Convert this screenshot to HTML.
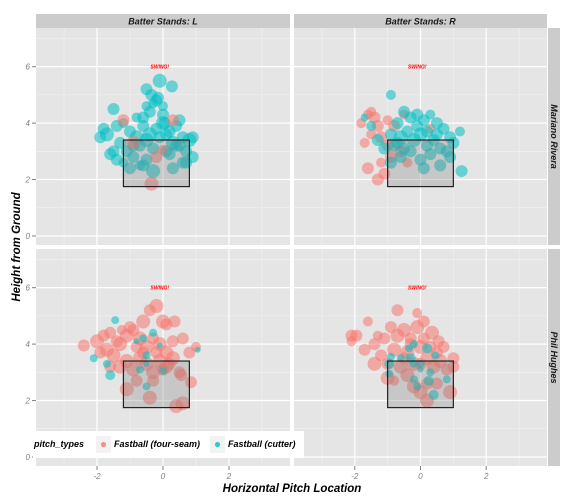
<!DOCTYPE html>
<html><head><meta charset="utf-8"><style>
body{margin:0;background:#fff;}
svg{display:block;font-family:"Liberation Sans",sans-serif;}
</style></head><body>
<svg id="c" width="576" height="504" xmlns="http://www.w3.org/2000/svg"></svg>
<script>
const xTicks=[-2,0,2];
const yTicks=[0,2,4,6];
const colors={f:"#F8766D",c:"#00BFC4"};
const legendLabels=["Fastball (four-seam)","Fastball (cutter)"];
const zoneL=[-1.2,0.8,1.75,3.4];
const zoneR=[-1.0,1.0,1.75,3.4];
// rows: [x, y, radius, type]
const riveraL=[[-0.1,5.5,7,'c'],[0.27,5.3,6,'c'],[-0.5,5.2,6,'c'],[-1.5,4.5,6,'c'],[-1.7,3.6,7,'c'],[-1.9,3.5,6,'c'],[-1.8,3.8,6,'c'],[-1.4,3.9,6,'c'],[-1.2,4.0,5,'c'],[-1.0,3.7,6,'c'],[-0.8,3.5,7,'c'],[-0.6,3.9,6,'c'],[-0.4,3.6,7,'c'],[-0.2,3.8,6,'c'],[0,4.0,7,'c'],[0.2,3.7,6,'c'],[0.4,3.9,6,'c'],[0.6,3.5,6,'c'],[0.8,3.4,7,'c'],[-1.3,3.3,6,'c'],[-1.1,3.0,6,'c'],[-0.9,2.8,6,'c'],[-0.7,3.2,6,'c'],[-0.5,3.4,7,'c'],[-0.3,3.1,6,'c'],[-0.1,3.5,6,'c'],[0.1,3.6,6,'c'],[0.3,3.3,7,'c'],[0.5,3.2,6,'c'],[0.7,3.0,6,'c'],[0.9,2.8,6,'c'],[-1.6,2.9,6,'c'],[-1.4,2.7,6,'c'],[-1.2,2.6,5,'c'],[-0.6,2.5,6,'c'],[-0.3,2.3,7,'c'],[0.3,2.4,6,'c'],[0.6,2.6,6,'c'],[0.9,3.5,6,'c'],[-0.8,4.2,5,'c'],[-0.4,4.4,6,'c'],[0,4.6,5,'c'],[0.5,4.1,6,'c'],[-0.2,4.8,6,'c'],[-0.6,4.2,6,'c'],[-0.9,3.2,6,'c'],[0.2,2.9,6,'c'],[0.7,2.6,6,'c'],[-1.0,2.4,6,'c'],[-0.5,2.7,6,'c'],[0.1,3.0,6,'c'],[0.4,3.2,6,'c'],[-1.5,3.0,6,'c'],[-0.7,2.5,5,'c'],[0,4.3,6,'c'],[-0.35,5.0,6,'c'],[-0.15,4.9,6,'c'],[-0.3,4.7,5,'c'],[-0.5,4.6,5,'c'],[0.05,4.0,6,'c'],[-1.2,4.1,6,'f'],[-0.2,2.8,6,'f'],[0,3.05,5,'f'],[-0.9,3.3,7,'f'],[0.3,4.1,6,'f'],[-0.35,1.85,7,'f']];
const riveraR=[[-1.8,4.0,5,'f'],[-1.6,4.3,5,'f'],[-1.4,4.2,6,'f'],[-1.3,3.9,6,'f'],[-1.5,3.6,5,'f'],[-1.2,3.5,6,'f'],[-1.6,2.4,6,'f'],[-1.3,2.0,6,'f'],[-1.1,2.2,6,'f'],[-0.9,2.8,6,'f'],[-0.8,3.9,6,'f'],[-1.0,4.1,5,'f'],[-0.6,3.0,6,'f'],[-0.4,2.6,5,'f'],[-1.2,2.6,5,'f'],[-0.5,4.3,5,'f'],[-1.0,3.2,6,'f'],[0.3,3.8,5,'f'],[-1.7,3.3,5,'f'],[-1.5,4.4,5,'f'],[-0.9,5.0,5,'c'],[-1.7,4.2,4,'c'],[-1.5,3.9,5,'c'],[-1.3,3.4,6,'c'],[-1.1,3.1,6,'c'],[-0.9,3.6,6,'c'],[-0.7,4.0,6,'c'],[-0.5,4.4,6,'c'],[-0.3,4.2,6,'c'],[-0.1,4.3,6,'c'],[0.1,4.1,6,'c'],[0.3,4.3,5,'c'],[0.5,4.0,6,'c'],[0.7,3.8,6,'c'],[0.9,3.5,6,'c'],[1.2,3.7,5,'c'],[-0.8,3.2,6,'c'],[-0.6,3.5,7,'c'],[-0.4,3.7,6,'c'],[-0.2,3.4,7,'c'],[0,3.6,7,'c'],[0.2,3.2,6,'c'],[0.4,3.4,6,'c'],[0.6,3.1,6,'c'],[0.8,3.0,6,'c'],[1.0,3.3,6,'c'],[-0.9,2.6,6,'c'],[-0.6,2.8,6,'c'],[-0.3,3.0,6,'c'],[0,2.7,6,'c'],[0.3,2.9,6,'c'],[0.6,2.5,6,'c'],[0.9,2.8,6,'c'],[1.25,2.3,6,'c'],[0.1,2.4,6,'c'],[-0.5,3.1,6,'c'],[0.5,3.6,6,'c'],[-0.1,3.9,6,'c'],[0.2,3.7,6,'c'],[-0.7,3.3,6,'c']];
const hughesL=[[-2.0,4.1,7,'f'],[-2.4,3.95,6,'f'],[-1.8,4.3,6,'f'],[-1.6,4.4,6,'f'],[-1.9,3.7,6,'f'],[-1.7,3.8,7,'f'],[-1.5,3.6,7,'f'],[-1.3,4.0,7,'f'],[-1.1,4.3,7,'f'],[-0.9,4.5,6,'f'],[-0.7,4.2,7,'f'],[-0.5,3.9,7,'f'],[-0.3,4.2,6,'f'],[-0.1,4.0,7,'f'],[0.1,3.7,7,'f'],[0.3,4.1,6,'f'],[0.6,4.2,6,'f'],[0.8,3.7,6,'f'],[1.0,3.9,5,'f'],[-1.3,3.2,7,'f'],[-1.1,3.4,7,'f'],[-0.9,3.1,7,'f'],[-0.7,3.5,7,'f'],[-0.5,3.3,7,'f'],[-0.3,3.0,7,'f'],[-0.1,3.4,7,'f'],[0.1,3.2,7,'f'],[0.3,3.5,7,'f'],[0.5,3.0,6,'f'],[0.55,2.9,6,'f'],[-1.1,2.4,7,'f'],[-0.8,2.7,6,'f'],[-0.4,2.1,7,'f'],[-0.3,2.7,6,'f'],[0.6,1.9,7,'f'],[0.4,1.8,7,'f'],[0.85,2.65,6,'f'],[-0.2,5.35,7,'f'],[-0.4,5.2,6,'f'],[-0.6,4.8,7,'f'],[0,4.8,7,'f'],[0.35,4.8,6,'f'],[0.1,4.7,6,'f'],[-1.25,4.5,5,'f'],[-1.0,4.6,6,'f'],[-0.8,3.9,6,'f'],[-0.2,3.7,6,'f'],[0.2,3.3,6,'f'],[-1.6,3.2,6,'f'],[-1.4,4.1,6,'f'],[-0.6,3.7,6,'f'],[0.0,3.1,6,'f'],[-1.45,4.85,4,'c'],[-2.1,3.5,4,'c'],[-1.7,3.3,4,'c'],[-1.6,2.9,5,'c'],[-0.8,4.1,3,'c'],[-0.6,4.2,4,'c'],[-0.3,4.4,4,'c'],[-0.5,3.6,4,'c'],[-0.5,3.3,3,'c'],[-0.7,3.1,4,'c'],[-0.1,3.95,3,'c'],[0,3.05,4,'c'],[-0.5,2.5,4,'c'],[1.05,3.8,3,'c']];
const hughesR=[[-2.1,4.3,6,'f'],[-1.95,4.3,6,'f'],[-2.1,4.1,5,'f'],[-1.6,4.8,5,'f'],[-1.7,3.8,6,'f'],[-1.3,4.3,5,'f'],[-1.4,3.3,7,'f'],[-1.1,4.2,6,'f'],[-0.9,4.6,6,'f'],[-0.7,4.3,7,'f'],[-0.5,4.5,7,'f'],[-0.3,4.2,6,'f'],[-0.1,4.6,7,'f'],[0.1,4.8,6,'f'],[0.35,4.4,7,'f'],[0.55,4.1,6,'f'],[0.7,3.9,6,'f'],[1.0,3.5,6,'f'],[-1.2,3.6,6,'f'],[-1.0,3.3,6,'f'],[-0.8,3.8,7,'f'],[-0.6,3.2,7,'f'],[-0.4,3.7,7,'f'],[-0.2,3.3,7,'f'],[0,3.9,7,'f'],[0.2,3.5,7,'f'],[0.4,3.2,7,'f'],[0.6,3.4,7,'f'],[0.8,3.1,6,'f'],[1.0,3.2,6,'f'],[-1.0,2.8,7,'f'],[-0.8,2.7,5,'f'],[-0.4,2.9,7,'f'],[-0.2,2.5,7,'f'],[0,2.3,7,'f'],[0.2,2.6,6,'f'],[0.5,2.6,6,'f'],[0.9,2.3,7,'f'],[0.2,2.0,7,'f'],[-0.1,5.1,5,'f'],[-0.7,5.2,6,'f'],[0.1,4.2,6,'f'],[-0.5,3.5,6,'f'],[0.3,3.9,6,'f'],[-0.3,4.0,6,'f'],[0.0,3.3,6,'f'],[0.5,3.7,6,'f'],[-1.4,4.0,6,'f'],[-0.35,3.85,4,'c'],[-0.2,4.0,4,'c'],[-0.9,3.55,4,'c'],[-0.95,3.3,5,'c'],[-0.6,3.5,4,'c'],[-0.3,3.5,5,'c'],[-0.2,3.3,4,'c'],[0.0,3.3,4,'c'],[0.2,3.85,5,'c'],[0.45,3.6,4,'c'],[0.0,3.1,3,'c'],[0.3,3.0,4,'c'],[-0.95,2.95,4,'c'],[-0.2,2.75,4,'c'],[0.25,2.7,5,'c'],[0.8,2.75,4,'c'],[-0.1,2.5,4,'c'],[0.4,2.2,5,'c']];

const NS="http://www.w3.org/2000/svg";
const svg=document.getElementById('c');
function mk(tag,attrs,parent,text){const e=document.createElementNS(NS,tag);for(const k in attrs)e.setAttribute(k,attrs[k]);if(text!==undefined)e.textContent=text;(parent||svg).appendChild(e);return e;}

const panelsX=[[36,290],[294,547]];
const panelsY=[[28,245],[249,466]];
const xMin=-3.85,xMax=3.85,yMin=-0.32,yMax=7.37;
function sx(p,v){const [a,b]=panelsX[p];return a+(v-xMin)/(xMax-xMin)*(b-a);}
function sy(p,v){const [a,b]=panelsY[p];return b-(v-yMin)/(yMax-yMin)*(b-a);}

const data=[[riveraL,riveraR],[hughesL,hughesR]];
const zones=[zoneL,zoneR];
const rowNames=["Mariano Rivera","Phil Hughes"];
const colNames=["Batter Stands: L","Batter Stands: R"];

for(let c=0;c<2;c++){
  const st=mk('rect',{x:panelsX[c][0],y:14,width:panelsX[c][1]-panelsX[c][0],height:14,fill:'#CCCCCC'});
  
  
  const t=mk('text',{x:(panelsX[c][0]+panelsX[c][1])/2,y:24.5,'text-anchor':'middle','font-size':9,'font-weight':'bold','font-style':'italic',fill:'#1a1a1a'},svg,colNames[c]);
  
  
}
for(let r=0;r<2;r++){
  const st=mk('rect',{x:548,y:panelsY[r][0],width:12,height:panelsY[r][1]-panelsY[r][0],fill:'#CCCCCC'});
  
  
  const cy=(panelsY[r][0]+panelsY[r][1])/2;
  const t=mk('text',{x:551,y:cy,transform:`rotate(90 551 ${cy})`,'text-anchor':'middle','font-size':9,'font-weight':'bold','font-style':'italic',fill:'#1a1a1a'},svg,rowNames[r]);
  
  
}

for(let r=0;r<2;r++)for(let c=0;c<2;c++){
  const g=mk('g',{});
  
  
  mk('rect',{x:panelsX[c][0],y:panelsY[r][0],width:panelsX[c][1]-panelsX[c][0],height:panelsY[r][1]-panelsY[r][0],fill:'#E5E5E5'},g);
  for(let v=-3;v<=3;v+=2)mk('line',{x1:sx(c,v),x2:sx(c,v),y1:panelsY[r][0],y2:panelsY[r][1],stroke:'#F2F2F2','stroke-width':0.6},g);
  for(let v=1;v<=7;v+=2)mk('line',{x1:panelsX[c][0],x2:panelsX[c][1],y1:sy(r,v),y2:sy(r,v),stroke:'#F2F2F2','stroke-width':0.6},g);
  xTicks.forEach(v=>mk('line',{x1:sx(c,v),x2:sx(c,v),y1:panelsY[r][0],y2:panelsY[r][1],stroke:'#fff','stroke-width':1.2},g));
  yTicks.forEach(v=>mk('line',{x1:panelsX[c][0],x2:panelsX[c][1],y1:sy(r,v),y2:sy(r,v),stroke:'#fff','stroke-width':1.2},g));
  data[r][c].forEach(p=>{
    const d=mk('circle',{cx:sx(c,p[0]),cy:sy(r,p[1]),r:p[2],fill:colors[p[3]],'fill-opacity':0.55},g);
    
    
  });
  const z=zones[c];
  const zr=mk('rect',{x:sx(c,z[0]),y:sy(r,z[3]),width:sx(c,z[1])-sx(c,z[0]),height:sy(r,z[2])-sy(r,z[3]),fill:'#808080','fill-opacity':0.3,stroke:'#222','stroke-width':1.2},g);
  
  
  const sw=mk('text',{x:sx(c,-0.1),y:sy(r,6)+2,'text-anchor':'middle','font-size':5,'font-weight':'bold','font-style':'italic',fill:'#FF0000'},g,'SWING!');
  
  
}
// axes ticks
for(let r=0;r<2;r++)yTicks.forEach(v=>{
  mk('line',{x1:32,x2:36,y1:sy(r,v),y2:sy(r,v),stroke:'#7F7F7F','stroke-width':1});
  const t=mk('text',{x:30,y:sy(r,v)+3,'text-anchor':'end','font-size':8,'font-style':'italic',fill:'#7F7F7F'},svg,v);
  
  
});
for(let c=0;c<2;c++)xTicks.forEach(v=>{
  mk('line',{x1:sx(c,v),x2:sx(c,v),y1:466,y2:470,stroke:'#7F7F7F','stroke-width':1});
  const t=mk('text',{x:sx(c,v),y:479,'text-anchor':'middle','font-size':8,'font-style':'italic',fill:'#7F7F7F'},svg,v);
  
  
});
const xt=mk('text',{x:292,y:492,'text-anchor':'middle','font-size':11.5,'font-weight':'bold','font-style':'italic',fill:'#000'},svg,'Horizontal Pitch Location');


const yt=mk('text',{x:20,y:247,transform:'rotate(-90 20 247)','text-anchor':'middle','font-size':11.5,'font-weight':'bold','font-style':'italic',fill:'#000'},svg,'Height from Ground');


// legend
const lg=mk('g',{});


mk('rect',{x:33,y:431,width:271,height:27,fill:'#fff'},lg);
mk('text',{x:34,y:447,'font-size':9,'font-weight':'bold','font-style':'italic',fill:'#000'},lg,'pitch_types');
const keyX=[96,210];
['f','c'].forEach((k,i)=>{
  const e=mk('g',{},lg);
  
  
  mk('rect',{x:keyX[i],y:436,width:15,height:17,fill:'#F2F2F2'},e);
  mk('circle',{cx:keyX[i]+7.5,cy:444.5,r:2.6,fill:colors[k],'fill-opacity':0.8},e);
  mk('text',{x:keyX[i]+18,y:447,'font-size':9,'font-weight':'bold','font-style':'italic',fill:'#000'},e,legendLabels[i]);
});
</script>
</body></html>
